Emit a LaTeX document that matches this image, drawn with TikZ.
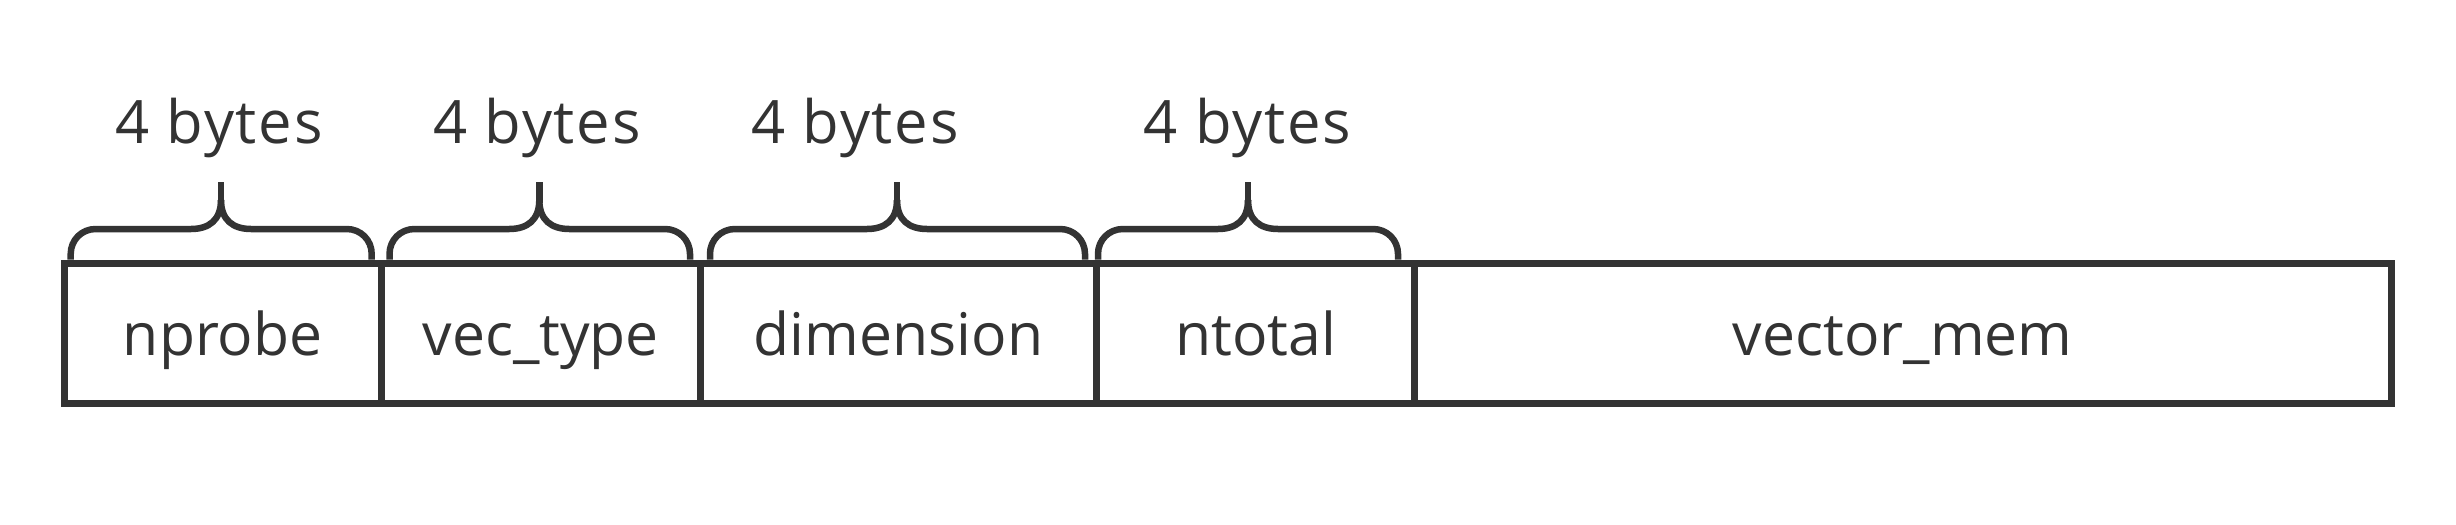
\documentclass[tikz,border=0pt]{standalone}
\usepackage{fontspec}
\setmainfont{Open Sans}
\usetikzlibrary{fit}
\definecolor{ink}{HTML}{333333}
\begin{document}
\begin{tikzpicture}[x=0.02cm,y=-0.02cm,
  seg/.style={draw=ink, line width=0.14cm, inner sep=0pt, rectangle},
  txt/.style={text=ink, font=\fontsize{33.5}{40}\selectfont, inner sep=0pt, anchor=base},
  bytes/.style={text=ink, font=\fontsize{34}{40}\selectfont\addfontfeature{LetterSpace=3}, inner sep=0pt, anchor=base},
  brc/.style={draw=ink, line width=0.13cm, line cap=butt}]
\useasboundingbox (0,0) rectangle (2456,524);
% segment corners
\coordinate (c0) at (64,263);
\coordinate (c1) at (381.5,403.5);
\coordinate (d0) at (381.5,263);
\coordinate (d1) at (700,403.5);
\coordinate (e0) at (700,263);
\coordinate (e1) at (1096.7,403.5);
\coordinate (f0) at (1096.7,263);
\coordinate (f1) at (1414.7,403.5);
\coordinate (g0) at (1414.7,263);
\coordinate (g1) at (2391,403.5);
\coordinate (base) at (0,355);
\coordinate (lbase) at (0,143.3);
\node[seg, fit=(c0)(c1)] (np) {};
\node[seg, fit=(d0)(d1)] (vt) {};
\node[seg, fit=(e0)(e1)] (dm) {};
\node[seg, fit=(f0)(f1)] (nt) {};
\node[seg, fit=(g0)(g1)] (vm) {};
\node[txt] (tnp) at (np.center |- base) {nprobe};
\node[txt] (tvt) at (vt.center |- base) {vec\_type};
\node[txt] (tdm) at (dm.center |- base) {dimension};
\node[txt] (tnt) at (nt.center |- base) {ntotal};
\node[txt] (tvm) at (vm.center |- base) {vector\_mem};
% braces
\newcommand{\mybrace}[3]{%
  \draw[brc] (#1,259.5) -- (#1,254) .. controls (#1,240) and ({#1+11},229) .. ({#1+25},229)
    -- ({#3-30},229) .. controls ({#3-12},229) and (#3,220) .. (#3,200);
  \draw[brc] (#2,259.5) -- (#2,254) .. controls (#2,240) and ({#2-11},229) .. ({#2-25},229)
    -- ({#3+30},229) .. controls ({#3+12},229) and (#3,220) .. (#3,200);
  \draw[brc] (#3,203) -- (#3,181.7);}
\mybrace{70.7}{371.7}{221}
\mybrace{389.5}{690}{539.3}
\mybrace{710}{1085}{897}
\mybrace{1098}{1398}{1248}
\coordinate (l1) at (219,0);
\coordinate (l2) at (537,0);
\coordinate (l3) at (855,0);
\coordinate (l4) at (1247.5,0);
\node[bytes] (b1) at (l1 |- lbase) {4 bytes};
\node[bytes] (b2) at (l2 |- lbase) {4 bytes};
\node[bytes] (b3) at (l3 |- lbase) {4 bytes};
\node[bytes] (b4) at (l4 |- lbase) {4 bytes};
\end{tikzpicture}
\end{document}
